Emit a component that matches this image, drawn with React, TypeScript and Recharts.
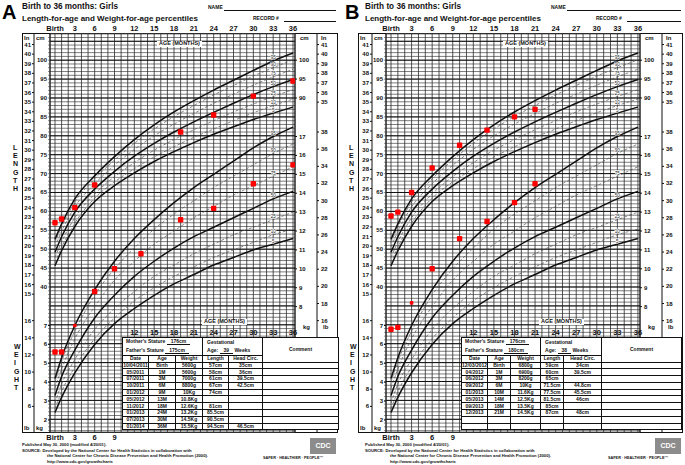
import React from 'react'
import { ComposedChart, Line, Scatter, XAxis, YAxis, CartesianGrid, ReferenceLine } from 'recharts'

const FONT = '"Liberation Sans", Arial, sans-serif'

// percentile curves (girls, birth to 36 months)
const curveAges = [0, 1, 3, 6, 9, 12, 15, 18, 21, 24, 27, 30, 33, 36]
const lenP5 = [45.6, 49.6, 56.0, 62.6, 66.8, 70.2, 73.2, 75.8, 78.2, 80.4, 82.4, 84.3, 86.0, 87.6]
const lenP10 = [46.4, 50.5, 56.9, 63.5, 67.8, 71.3, 74.4, 77.1, 79.6, 81.8, 84.0, 86.1, 88.0, 89.7]
const lenP25 = [47.8, 51.9, 58.3, 64.6, 69.2, 72.9, 76.2, 79.0, 81.6, 84.0, 86.3, 88.4, 90.4, 92.2]
const lenP50 = [49.2, 53.3, 59.8, 65.9, 70.6, 74.6, 78.0, 81.0, 83.7, 86.2, 88.6, 90.9, 93.0, 94.9]
const lenP75 = [50.6, 54.7, 61.2, 67.3, 72.2, 76.4, 80.0, 83.1, 85.9, 88.6, 91.0, 93.4, 95.6, 97.6]
const lenP90 = [51.8, 55.9, 62.5, 68.6, 73.6, 78.0, 81.8, 85.1, 88.0, 90.8, 93.3, 95.8, 98.0, 100.1]
const lenP95 = [52.6, 56.7, 63.3, 69.4, 74.5, 79.0, 82.9, 86.3, 89.3, 92.1, 94.7, 97.3, 99.8, 101.9]

const wtP5 = [2.4, 3.2, 4.5, 6.0, 7.1, 7.9, 8.6, 9.2, 9.7, 10.2, 10.6, 11.0, 11.3, 11.6]
const wtP10 = [2.6, 3.5, 4.8, 6.3, 7.4, 8.3, 9.0, 9.6, 10.1, 10.6, 11.0, 11.4, 11.8, 12.1]
const wtP25 = [2.9, 3.9, 5.2, 6.8, 7.9, 8.8, 9.6, 10.2, 10.8, 11.3, 11.8, 12.2, 12.6, 13.0]
const wtP50 = [3.3, 4.3, 5.7, 7.4, 8.6, 9.6, 10.4, 11.1, 11.7, 12.2, 12.7, 13.2, 13.7, 14.1]
const wtP75 = [3.7, 4.7, 6.3, 8.0, 9.4, 10.4, 11.3, 12.0, 12.7, 13.3, 13.9, 14.4, 14.9, 15.4]
const wtP90 = [4.0, 5.1, 6.7, 8.6, 10.0, 11.1, 12.1, 12.9, 13.6, 14.3, 14.9, 15.5, 16.1, 16.6]
const wtP95 = [4.2, 5.3, 7.0, 8.9, 10.4, 11.6, 12.6, 13.5, 14.3, 15.0, 15.7, 16.4, 17.0, 17.5]

const percentiles = [5, 10, 25, 50, 75, 90, 95]
const boldPct = [5, 50, 95]

// plotted measurements, panel A
const aLenAge = [0, 1, 3, 6, 19, 24, 30, 36]
const aLenCm = [57, 58, 61, 67, 81, 85.5, 90.5, 94.5]
const aWtAge = [0, 1, 3, 6, 9, 13, 19, 24, 30, 36]
const aWtKg = [5.6, 5.6, 7.0, 8.8, 10, 10.8, 12.6, 13.2, 14.5, 15.5]

// plotted measurements, panel B
const bLenAge = [0, 1, 3, 6, 10, 14, 18, 21]
const bLenCm = [58.8, 59.8, 65, 71.5, 77.5, 81.5, 85, 87]
const bWtAge = [0, 1, 3, 6, 10, 14, 18, 21]
const bWtKg = [6.8, 6.9, 8.2, 10, 11.6, 12.5, 13.5, 14.5]

// record tables
const aDates = ['10/04/2011', '05/2011', '07/2011', '10/2011', '01/2012', '05/2012', '11/2012', '01/2013', '07/2013', '01/2014']
const aAgeText = ['Birth', '1M', '3M', '6M', '9M', '13M', '18M', '24M', '30M', '36M']
const aWeightText = ['5600g', '5600g', '7000g', '8800g', '10Kg', '10.8Kg', '12.6Kg', '13.2Kg', '14.5Kg', '15.5Kg']
const aLengthText = ['57cm', '58cm', '61cm', '67cm', '74cm', '', '81cm', '85.5cm', '90.5cm', '94.5cm']
const aHeadText = ['35cm', '36cm', '39.5cm', '42.5cm', '', '', '', '', '', '46.5cm']

const bDates = ['12/03/2012', '04/2012', '06/2012', '09/2012', '01/2013', '05/2013', '09/2013', '12/2013', '', '']
const bAgeText = ['Birth', '1M', '3M', '6M', '10M', '14M', '18M', '21M', '', '']
const bWeightText = ['6800g', '6900g', '8200g', '10Kg', '11.6Kg', '12.5Kg', '13.5Kg', '14.5Kg', '', '']
const bLengthText = ['59cm', '60cm', '65cm', '71.5cm', '77.5cm', '81.5cm', '85cm', '87cm', '', '']
const bHeadText = ['34cm', '39.5cm', '', '44.8cm', '45.5cm', '46cm', '', '48cm', '', '']

// axis ticks
const monthTicks = Array.from({ length: 37 }, (_, i) => i)
const cmGridTicks = Array.from({ length: 105 }, (_, i) => i + 2)
const cmBoldTicks = [5, 10, 15, 20, 25, 30, 35, 40, 45, 50, 55, 60, 65, 70, 75, 80, 85, 90, 95, 100, 105]
const inLeftTicks = [15, 16, 17, 18, 19, 20, 21, 22, 23, 24, 25, 26, 27, 28, 29, 30, 31, 32, 33, 34, 35, 36, 37, 38, 39, 40, 41]
const inRightTicks = [35, 36, 37, 38, 39, 40, 41]
const cmRightTicks = [90, 95, 100]
const kgLeftTicks = [2, 3, 4, 5, 6, 7]
const lbLeftTicks = [6, 8, 10, 12, 14, 16]
const kgRightTicks = [8, 9, 10, 11, 12, 13, 14, 15, 16, 17]
const lbRightTicks = [16, 18, 20, 22, 24, 26, 28, 30, 32, 34, 36, 38]
const midAgeTicks = [12, 15, 18, 21, 24, 27, 30, 33, 36]

// the chart's cm and kg scales share one frame: 1 kg = 5 cm
const CM_DOMAIN: [number, number] = [1.64, 106.93]
const KG_DOMAIN: [number, number] = [CM_DOMAIN[0] * 0.2 + 1.038, CM_DOMAIN[1] * 0.2 + 1.038]
const IN_DOMAIN: [number, number] = [CM_DOMAIN[0] / 2.54, CM_DOMAIN[1] / 2.54]
const LB_DOMAIN: [number, number] = [KG_DOMAIN[0] * 2.2046, KG_DOMAIN[1] * 2.2046]

const RIGHT_CM_W = 22
const RIGHT_IN_W = 23
const H = 465
const MARGIN_TOP = 14
const MARGIN_BOTTOM = 21

const rows = curveAges.map((age, i) => ({
  age,
  l5: lenP5[i], l10: lenP10[i], l25: lenP25[i], l50: lenP50[i], l75: lenP75[i], l90: lenP90[i], l95: lenP95[i],
  w5: wtP5[i], w10: wtP10[i], w25: wtP25[i], w50: wtP50[i], w75: wtP75[i], w90: wtP90[i], w95: wtP95[i],
}))
const LABEL_IDX = curveAges.indexOf(33)

type PanelSpec = {
  letter: string
  left: number
  width: number
  padLeft: number
  inW: number
  cmW: number
  xDomain: [number, number]
  lenAge: number[]
  lenCm: number[]
  wtAge: number[]
  wtKg: number[]
  mother: string
  father: string
  gest: string
  dates: string[]
  ageText: string[]
  weightText: string[]
  lengthText: string[]
  headText: string[]
  cols: number[]
  tableLeft: number
  topAgeX: number
  midAgeX: number
  lettersX: number
}

const panelA: PanelSpec = {
  letter: 'A', left: 0, width: 340, padLeft: 22, inW: 12, cmW: 16, xDomain: [-0.756, 36.3],
  lenAge: aLenAge, lenCm: aLenCm, wtAge: aWtAge, wtKg: aWtKg,
  mother: '176cm', father: '175cm', gest: '39',
  dates: aDates, ageText: aAgeText, weightText: aWeightText, lengthText: aLengthText, headText: aHeadText,
  cols: [26, 27, 27, 26, 34, 76], tableLeft: 122, topAgeX: 178, midAgeX: 223, lettersX: 13,
}

const panelB: PanelSpec = {
  letter: 'B', left: 343, width: 342, padLeft: 15, inW: 14, cmW: 14, xDomain: [-0.73, 36.3],
  lenAge: bLenAge, lenCm: bLenCm, wtAge: bWtAge, wtKg: bWtKg,
  mother: '176cm', father: '180cm', gest: '38',
  dates: bDates, ageText: bAgeText, weightText: bWeightText, lengthText: bLengthText, headText: bHeadText,
  cols: [26, 23, 30, 23, 38, 80], tableLeft: 118, topAgeX: 181, midAgeX: 217, lettersX: 6,
}

const makeTick = (show: (v: number) => boolean, fs = 6) => (props: any) => {
  const { x, y, payload, textAnchor } = props
  if (!show(payload.value)) return <g />
  return (
    <text x={x} y={y} dy={2} textAnchor={textAnchor} fontSize={fs} fontWeight={700} fill="#111" fontFamily={FONT}>
      {payload.value}
    </text>
  )
}

const cmTick = makeTick((v) => v >= 40 && v <= 100 && v % 5 === 0)
const allTick = makeTick(() => true)

const TopTick = (props: any) => {
  const { x, y, payload } = props
  if (payload.value % 3 !== 0) return <g />
  return (
    <text x={x} y={y} textAnchor="middle" fontSize={7.5} fontWeight={700} fill="#111" fontFamily={FONT}>
      {payload.value === 0 ? 'Birth' : payload.value}
    </text>
  )
}

const BottomTick = (props: any) => {
  const { x, y, payload } = props
  return (
    <text x={x} y={y + 7} textAnchor="middle" fontSize={7.5} fontWeight={700} fill="#111" fontFamily={FONT}>
      {payload.value === 0 ? 'Birth' : payload.value}
    </text>
  )
}

const pctLabel = (p: number) => (props: any) => {
  if (props.index !== LABEL_IDX) return <g />
  return (
    <text x={props.x} y={props.y - 1.5} textAnchor="middle" fontSize={4.5} fill="#222" stroke="#fff" strokeWidth={1.2} paintOrder="stroke" fontFamily={FONT}>
      {p}
    </text>
  )
}

const dotShape = (props: any) => {
  const s = props.payload.small ? 1.8 : 2.7
  return <rect x={props.cx - s} y={props.cy - s} width={s * 2} height={s * 2} rx={1} fill="#ff0000" />
}

const tiny = (extra: React.CSSProperties = {}): React.CSSProperties => ({
  position: 'absolute', fontSize: 6, fontWeight: 700, color: '#111', whiteSpace: 'nowrap', lineHeight: 1, ...extra,
})

function RecordTable({ spec }: { spec: PanelSpec }) {
  const tw = spec.cols.reduce((a, b) => a + b, 0)
  const cell: React.CSSProperties = { border: '0.8px solid #111', padding: 0, textAlign: 'center', overflow: 'hidden', whiteSpace: 'nowrap' }
  const u: React.CSSProperties = { display: 'inline-block', borderBottom: '0.6px solid #111', padding: '0 4px' }
  return (
    <table
      style={{
        position: 'absolute', left: spec.tableLeft, top: 337, width: tw, borderCollapse: 'collapse', tableLayout: 'fixed',
        fontSize: 5, fontWeight: 700, fontFamily: FONT, background: '#fff', color: '#111', lineHeight: 1,
      }}
    >
      <colgroup>
        {spec.cols.map((c, i) => <col key={i} style={{ width: c }} />)}
      </colgroup>
      <tbody>
        <tr style={{ height: 18 }}>
          <td colSpan={3} style={{ ...cell, textAlign: 'left', paddingLeft: 3 }}>
            <div style={{ marginBottom: 3 }}>Mother's Stature <span style={u}>{spec.mother}</span></div>
            <div>Father's Stature <span style={u}>{spec.father}</span></div>
          </td>
          <td colSpan={2} style={{ ...cell, textAlign: 'left', paddingLeft: 4 }}>
            <div style={{ marginBottom: 3 }}>Gestational</div>
            <div>Age: <span style={u}>{spec.gest}</span> Weeks</div>
          </td>
          <td rowSpan={2} style={cell}>Comment</td>
        </tr>
        <tr style={{ height: 6.5 }}>
          {['Date', 'Age', 'Weight', 'Length', 'Head Circ.'].map((t) => <td key={t} style={cell}>{t}</td>)}
        </tr>
        {spec.dates.map((d, i) => (
          <tr key={i} style={{ height: 6.8 }}>
            <td style={cell}>{d}</td>
            <td style={cell}>{spec.ageText[i]}</td>
            <td style={cell}>{spec.weightText[i]}</td>
            <td style={cell}>{spec.lengthText[i]}</td>
            <td style={cell}>{spec.headText[i]}</td>
            <td style={cell}></td>
          </tr>
        ))}
      </tbody>
    </table>
  )
}

function Panel({ spec }: { spec: PanelSpec }) {
  const W = spec.width
  const margin = { top: MARGIN_TOP, bottom: MARGIN_BOTTOM, left: spec.padLeft, right: 0 }
  const plotLeft = spec.padLeft + spec.inW + spec.cmW
  const plotRight = W - RIGHT_CM_W - RIGHT_IN_W
  const lenDots = spec.lenAge.map((age, i) => ({ age, cm: spec.lenCm[i] }))
  const wtDots = spec.wtAge.map((age, i) => ({ age, kg: spec.wtKg[i], small: age === 3 }))
  const boxLeft = spec.padLeft

  return (
    <div style={{ position: 'absolute', left: spec.left, top: 0, width: W, height: H, fontFamily: FONT }}>
      {/* heading */}
      <div style={{ position: 'absolute', left: 2, top: 2, fontSize: 20, fontWeight: 700, lineHeight: 1 }}>{spec.letter}</div>
      <div style={tiny({ left: 22, top: 3, fontSize: 8.2 })}>Birth to 36 months: Girls</div>
      <div style={tiny({ left: 22, top: 15, fontSize: 8 })}>Length-for-age and Weight-for-age percentiles</div>
      <div style={tiny({ left: 208, top: 5, fontSize: 5 })}>NAME</div>
      <div style={{ position: 'absolute', left: 224, top: 10, width: W - 228, borderBottom: '0.8px solid #111' }} />
      <div style={tiny({ left: 253, top: 16, fontSize: 5 })}>RECORD #</div>
      <div style={{ position: 'absolute', left: 284, top: 21, width: W - 288, borderBottom: '0.8px solid #111' }} />

      {/* frame */}
      <div style={{ position: 'absolute', left: boxLeft, top: 33, width: W - boxLeft - 2, height: 400, border: '1px solid #111', boxSizing: 'border-box' }} />

      {/* curves, grid and measurements */}
      <div style={{ position: 'absolute', left: 0, top: 0 }}>
        <ComposedChart width={W} height={H} data={rows} margin={margin}>
          <CartesianGrid xAxisId="top" yAxisId="cm" vertical={false} stroke="#5a5a5a" strokeWidth={0.8} />
          <CartesianGrid xAxisId="top" yAxisId="cm" horizontal={false} stroke="#2a2a2a" strokeWidth={0.8} />
          <XAxis xAxisId="top" orientation="top" type="number" dataKey="age" domain={spec.xDomain} allowDataOverflow ticks={monthTicks} interval={0} height={20} tickSize={0} tickMargin={3} tick={TopTick} axisLine={false} />
          <XAxis xAxisId="bot" orientation="bottom" type="number" dataKey="age" domain={spec.xDomain} allowDataOverflow ticks={[0, 3, 6, 9]} interval={0} height={12} tickSize={0} tickMargin={1} tick={BottomTick} axisLine={false} />
          <YAxis yAxisId="cm" orientation="left" type="number" domain={CM_DOMAIN} allowDataOverflow ticks={cmGridTicks} interval={0} width={spec.cmW} tickSize={2} tickMargin={1} tick={cmTick} axisLine={{ stroke: '#111' }} tickLine={{ stroke: '#444', strokeWidth: 0.6 }} />
          <YAxis yAxisId="in" orientation="left" type="number" domain={IN_DOMAIN} allowDataOverflow ticks={inLeftTicks} interval={0} width={spec.inW} tickSize={2} tickMargin={1} tick={allTick} axisLine={{ stroke: '#111' }} tickLine={{ stroke: '#111' }} />
          <YAxis yAxisId="cmR" orientation="right" type="number" domain={CM_DOMAIN} allowDataOverflow ticks={cmRightTicks} interval={0} width={RIGHT_CM_W} tickSize={2} tickMargin={2} tick={allTick} axisLine={{ stroke: '#111' }} tickLine={{ stroke: '#111' }} />
          <YAxis yAxisId="inR" orientation="right" type="number" domain={IN_DOMAIN} allowDataOverflow ticks={inRightTicks} interval={0} width={RIGHT_IN_W} tickSize={2} tickMargin={2} tick={allTick} axisLine={{ stroke: '#111' }} tickLine={{ stroke: '#111' }} />
          <YAxis yAxisId="kg" hide type="number" domain={KG_DOMAIN} allowDataOverflow />
          {cmBoldTicks.map((v) => (
            <ReferenceLine key={'b' + v} xAxisId="top" yAxisId="cm" y={v} stroke="#111" strokeWidth={1} />
          ))}
          {percentiles.map((p) => {
            const bold = boldPct.includes(p)
            return (
              <Line key={'l' + p} xAxisId="top" yAxisId="cm" dataKey={'l' + p} type="monotone" stroke={bold ? '#111' : '#555'}
                strokeWidth={bold ? 1.5 : 0.7} strokeDasharray={bold ? undefined : '3 2'} dot={false} activeDot={false}
                isAnimationActive={false} label={pctLabel(p)} />
            )
          })}
          {percentiles.map((p) => {
            const bold = boldPct.includes(p)
            return (
              <Line key={'w' + p} xAxisId="top" yAxisId="kg" dataKey={'w' + p} type="monotone" stroke={bold ? '#111' : '#555'}
                strokeWidth={bold ? 1.5 : 0.7} strokeDasharray={bold ? undefined : '3 2'} dot={false} activeDot={false}
                isAnimationActive={false} label={pctLabel(p)} />
            )
          })}
          <Scatter xAxisId="top" yAxisId="cm" data={lenDots} dataKey="cm" shape={dotShape} isAnimationActive={false} />
          <Scatter xAxisId="top" yAxisId="kg" data={wtDots} dataKey="kg" shape={dotShape} isAnimationActive={false} />
        </ComposedChart>
      </div>

      {/* weight scales on the same frame */}
      <div style={{ position: 'absolute', left: 0, top: 0, pointerEvents: 'none' }}>
        <ComposedChart width={W} height={H} data={rows} margin={margin}>
          <XAxis xAxisId="top" orientation="top" type="number" dataKey="age" domain={spec.xDomain} allowDataOverflow height={20} tick={false} tickLine={false} axisLine={false} />
          <XAxis xAxisId="bot" orientation="bottom" type="number" dataKey="age" domain={spec.xDomain} allowDataOverflow height={12} tick={false} tickLine={false} axisLine={false} />
          <YAxis yAxisId="kg" orientation="left" type="number" domain={KG_DOMAIN} allowDataOverflow ticks={kgLeftTicks} interval={0} width={spec.cmW} tickSize={2} tickMargin={1} tick={allTick} axisLine={false} tickLine={{ stroke: '#111' }} />
          <YAxis yAxisId="lb" orientation="left" type="number" domain={LB_DOMAIN} allowDataOverflow ticks={lbLeftTicks} interval={0} width={spec.inW} tickSize={2} tickMargin={1} tick={allTick} axisLine={false} tickLine={{ stroke: '#111' }} />
          <YAxis yAxisId="kgR" orientation="right" type="number" domain={KG_DOMAIN} allowDataOverflow ticks={kgRightTicks} interval={0} width={RIGHT_CM_W} tickSize={2} tickMargin={2} tick={allTick} axisLine={false} tickLine={{ stroke: '#111' }} />
          <YAxis yAxisId="lbR" orientation="right" type="number" domain={LB_DOMAIN} allowDataOverflow ticks={lbRightTicks} interval={0} width={RIGHT_IN_W} tickSize={2} tickMargin={2} tick={allTick} axisLine={false} tickLine={{ stroke: '#111' }} />
        </ComposedChart>
      </div>

      {/* middle age axis above the table */}
      <div style={{ position: 'absolute', left: 0, top: 0, pointerEvents: 'none' }}>
        <ComposedChart width={W} height={340} data={rows} margin={{ top: 318, bottom: 0, left: plotLeft, right: W - plotRight }}>
          <XAxis xAxisId="mid" orientation="bottom" type="number" dataKey="age" domain={spec.xDomain} allowDataOverflow ticks={midAgeTicks} interval={0} height={12} tickSize={0} tickMargin={0} tick={BottomTick} axisLine={false} />
        </ComposedChart>
      </div>

      {/* scale headings */}
      <div style={tiny({ left: boxLeft + 2, top: 35, fontSize: 6 })}>In</div>
      <div style={tiny({ left: boxLeft + spec.inW + 2, top: 35, fontSize: 6 })}>cm</div>
      <div style={tiny({ left: plotRight + 5, top: 35, fontSize: 6 })}>cm</div>
      <div style={tiny({ left: plotRight + RIGHT_CM_W + 4, top: 35, fontSize: 6 })}>In</div>
      <div style={tiny({ left: boxLeft + 2, top: 425, fontSize: 6 })}>lb</div>
      <div style={tiny({ left: boxLeft + spec.inW + 2, top: 425, fontSize: 6 })}>kg</div>
      <div style={tiny({ left: plotRight + 8, top: 324, fontSize: 6 })}>kg</div>
      <div style={tiny({ left: plotRight + RIGHT_CM_W + 6, top: 324, fontSize: 6 })}>lb</div>

      <div style={tiny({ left: spec.topAgeX - 21, top: 41, fontSize: 5.5, background: '#fff', padding: '0 2px' })}>AGE (MONTHS)</div>
      <div style={tiny({ left: spec.midAgeX - 21, top: 319, fontSize: 5.5, background: '#fff', padding: '0 2px' })}>AGE (MONTHS)</div>

      {'LENGTH'.split('').map((c, i) => (
        <div key={'L' + i} style={tiny({ left: spec.lettersX, top: 144 + i * 8.2, fontSize: 7 })}>{c}</div>
      ))}
      {'WEIGHT'.split('').map((c, i) => (
        <div key={'W' + i} style={tiny({ left: spec.lettersX + 1, top: 343 + i * 8.2, fontSize: 7 })}>{c}</div>
      ))}

      <RecordTable spec={spec} />

      {/* footer */}
      <div style={tiny({ left: 22, top: 443, fontSize: 4.2 })}>Published May 30, 2000 (modified 4/20/01).</div>
      <div style={tiny({ left: 22, top: 448.5, fontSize: 4.2 })}>SOURCE: Developed by the National Center for Health Statistics in collaboration with</div>
      <div style={tiny({ left: 47, top: 454, fontSize: 4.2 })}>the National Center for Chronic Disease Prevention and Health Promotion (2000).</div>
      <div style={tiny({ left: 47, top: 459.5, fontSize: 4.2 })}>http://www.cdc.gov/growthcharts</div>

      <div style={{ position: 'absolute', left: W - 30, top: 438, width: 26, height: 16, background: '#8c8c8c', color: '#fff', fontSize: 7, fontWeight: 700, textAlign: 'center', lineHeight: '16px' }}>CDC</div>
      <div style={tiny({ left: W - 77, top: 457, fontSize: 3.8 })}>SAFER · HEALTHIER · PEOPLE™</div>
    </div>
  )
}

export default function App() {
  return (
    <div style={{ position: 'absolute', left: 0, top: 0, width: 685, height: 465, background: '#fff', overflow: 'hidden' }}>
      <Panel spec={panelA} />
      <Panel spec={panelB} />
    </div>
  )
}
